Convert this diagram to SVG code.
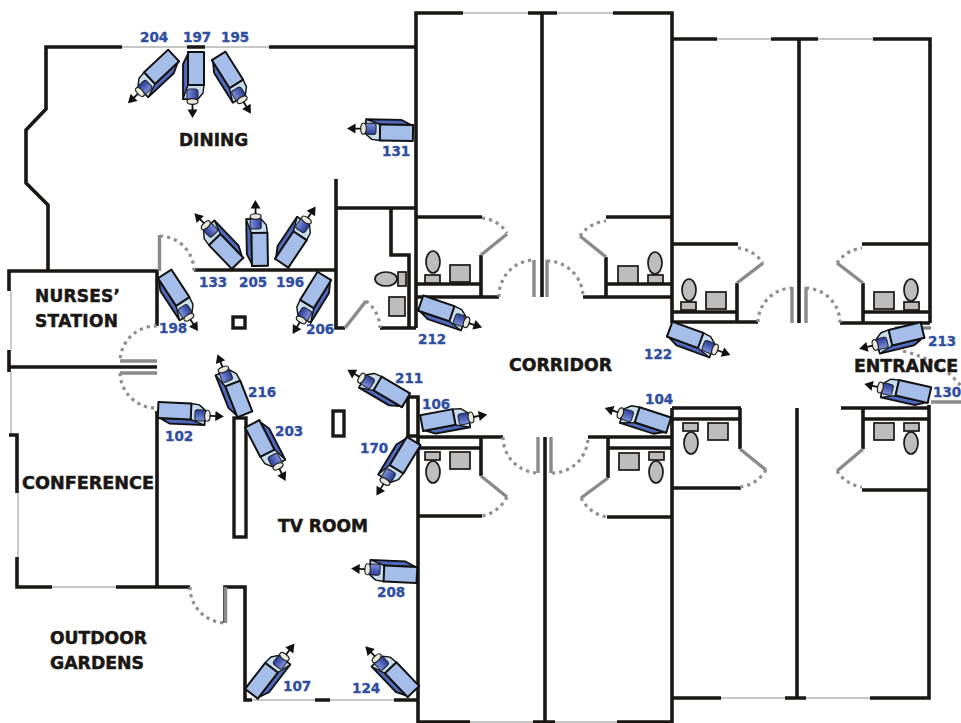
<svg xmlns="http://www.w3.org/2000/svg" width="961" height="723" viewBox="0 0 961 723">
<style>
.w{fill:none;stroke:#1a1714;stroke-width:3.6;stroke-linejoin:miter}
.t{fill:none;stroke:#b5b5b5;stroke-width:1.4}
.d{fill:none;stroke:#8a8a8a;stroke-width:3.4}
.a{fill:none;stroke:#8f8f8f;stroke-width:3.2;stroke-dasharray:3.200 4}
.fx{fill:#bdbdbd;stroke:#1a1714;stroke-width:1.700}
.p{fill:#fff;stroke:#1a1714;stroke-width:3.400}
.lb{font-family:"DejaVu Sans",sans-serif;font-weight:700;font-size:17px;fill:#1a1714;stroke:#1a1714;stroke-width:.5}
.n{font-family:"DejaVu Sans",sans-serif;font-weight:700;font-size:13.500px;fill:#2f4ea0;stroke:#2f4ea0;stroke-width:.35}
.cs{fill:url(#side);stroke:#111;stroke-width:1.800;stroke-linejoin:round}
.cn{fill:#c8deee;stroke:#111;stroke-width:1.400;stroke-linejoin:round}
.cf{fill:#a5bde9;stroke:#111;stroke-width:2;stroke-linejoin:round}
.cl{fill:url(#lens);stroke:#222;stroke-width:1}
.cc{fill:#e8e8dc;stroke:#222;stroke-width:1.200}
.ca{stroke:#111;stroke-width:1.800;fill:none}
.ch{fill:#111}
</style>
<defs>
<linearGradient id="side" x1="0" y1="0" x2="1" y2="0"><stop offset="0" stop-color="#3f58ad"/><stop offset="1" stop-color="#6f88d6"/></linearGradient>
<linearGradient id="lens" x1="0" y1="0" x2="1" y2="0"><stop offset="0" stop-color="#7f93df"/><stop offset="1" stop-color="#2a3a98"/></linearGradient>
<g id="cam">
<polygon class="cs" points="-5,0 -11,12 -11,47 -4,47 -6,33 -6,0"/>
<polygon class="cn" points="-6,33 10,33 9,41 4,47 -11,47"/>
<rect class="cf" x="-6" y="0" width="16" height="33"/>
<rect class="cl" x="-7" y="37" width="11" height="11" rx="2.500"/>
<ellipse class="cc" cx="-1.500" cy="49.500" rx="5.500" ry="2.800"/>
<line class="ca" x1="-1.500" y1="52" x2="-1.500" y2="59"/>
<polygon class="ch" points="-6.500,57.500 3.500,57.500 -1.500,66"/>
</g>
</defs>
<rect width="961" height="723" fill="#fff"/>
<g id="walls">
<path class="t" d="M122 47H269M463 13H528M557 13H613M717 39H771M818 39H873M721 698H785M806 698H870M470 722H533M555 722H617M11 291V350M11 372V435M18 493V557M52 587H116M252 700H315M330 700H394"/>
<path class="w" d="M122 47H46V109L26 130V183L48 205V271M269 47H416M187 47H205"/>
<path class="w" d="M9 291V271H157V326M9 350V372M9 367H157M157 411V587M9 435H17V493M17 557V587H52M116 587H190M225 623V587H245V700H252M315 700H330M394 700H418"/>
<path class="w" d="M194 270H336M336 179V328H345M336 208H416M391 208V255H409V328M380 328H416"/>
<path class="w" d="M463 13H416V328M528 13H557M542 13V297M613 13H672V323M672 39H717M771 39H818M799 39V323M873 39H930V323"/>
<path class="w" d="M408 397H418V723M408 397V436H418M545 437V723M672 408V723M672 698H721M785 698H806M797 408V698M870 698H929V405M418 722H470M533 722H555M617 722H672"/>
<path class="w" d="M417 217H482M481 255V297M417 284H481M417 297H499M606 217H672M606 257V297M606 284H672M583 297H672"/>
<path class="w" d="M417 437H503M417 448H481M481 437V476M417 516H482M588 437H672M608 448H672M608 437V478M607 517H672"/>
<path class="w" d="M673 244H738M737 283V322M673 312H737M673 322H758M840 323H930M863 283V323M863 312H930M862 244H930"/>
<path class="w" d="M672 408H741M672 419H740M740 408V449M672 488H741M841 408H930M863 419H930M863 408V449M862 490H930"/>
<rect class="p" x="233" y="317" width="12" height="11"/>
<rect class="p" x="333" y="411" width="11" height="25"/>
<rect class="p" x="234" y="418" width="12" height="119"/>
<g id="doors">
<path class="d" d="M159.500 235V271M120 361H157M120 373H157M345 328L366 301M225.500 587V623M481 255L507 234M534 260V297M547 260V297M606 257L580 236M481 476L507 497M538 437V473M551 437V473M608 478L581 498"/>
<path class="d" d="M737 283L763 263M792 287V323M806 287V323M863 283L837 263M740 449L766 470M863 449L837 471M895 328H931M931 402H961"/>
<path class="a" d="M160 236A35 35 0 0 1 194 271M157 326A36 36 0 0 0 120 361M120 373A36 36 0 0 0 157 408M366 301A35 35 0 0 1 380 328M190 587A36 36 0 0 0 225 623M482 218A33 33 0 0 1 507 233M499 297A36 36 0 0 1 534 260M547 261A36 36 0 0 1 583 297M580 236A35 35 0 0 1 606 221M507 497A36 36 0 0 1 482 516M503 437A36 36 0 0 0 538 473M552 473A36 36 0 0 0 588 437M581 498A36 36 0 0 0 607 517"/>
<path class="a" d="M738 248A35 35 0 0 1 763 263M758 322A35 35 0 0 1 792 288M806 288A35 35 0 0 1 840 323M837 263A35 35 0 0 1 862 248M766 470A35 35 0 0 1 740 487M837 471A35 35 0 0 0 862 487M903 351Q940 360 961 386"/>
</g>
<g id="fixtures">
<ellipse class="fx" cx="433" cy="262" rx="7" ry="11"/><rect class="fx" x="425" y="275" width="15" height="8"/><rect class="fx" x="450" y="265" width="20" height="17"/>
<ellipse class="fx" cx="655" cy="263" rx="7" ry="11"/><rect class="fx" x="648" y="275" width="15" height="8"/><rect class="fx" x="618" y="266" width="20" height="17"/>
<ellipse class="fx" cx="433" cy="472" rx="7" ry="11"/><rect class="fx" x="425" y="452" width="15" height="8"/><rect class="fx" x="450" y="452" width="20" height="17"/>
<ellipse class="fx" cx="656" cy="472" rx="7" ry="11"/><rect class="fx" x="649" y="452" width="15" height="8"/><rect class="fx" x="619" y="453" width="20" height="17"/>
<ellipse class="fx" cx="689" cy="290" rx="7" ry="11"/><rect class="fx" x="681" y="302" width="15" height="8"/><rect class="fx" x="706" y="292" width="20" height="17"/>
<ellipse class="fx" cx="911" cy="290" rx="7" ry="11"/><rect class="fx" x="904" y="302" width="15" height="8"/><rect class="fx" x="874" y="292" width="20" height="17"/>
<ellipse class="fx" cx="691" cy="443" rx="7" ry="11"/><rect class="fx" x="683" y="423" width="15" height="8"/><rect class="fx" x="708" y="423" width="20" height="17"/>
<ellipse class="fx" cx="911" cy="443" rx="7" ry="11"/><rect class="fx" x="904" y="423" width="15" height="8"/><rect class="fx" x="874" y="423" width="20" height="17"/>
<ellipse class="fx" cx="386" cy="279" rx="11" ry="7"/><rect class="fx" x="398" y="272" width="8" height="14"/><rect class="fx" x="389" y="297" width="16" height="19"/>
</g>
</g>
<g id="rooms">
<text class="lb" x="179" y="146">DINING</text>
<text class="lb" x="35" y="302" textLength="85">NURSES’</text>
<text class="lb" x="35" y="327" textLength="83">STATION</text>
<text class="lb" x="22" y="489" textLength="132" lengthAdjust="spacingAndGlyphs">CONFERENCE</text>
<text class="lb" x="278" y="532" textLength="90" lengthAdjust="spacingAndGlyphs">TV ROOM</text>
<text class="lb" x="50" y="644" textLength="97" lengthAdjust="spacingAndGlyphs">OUTDOOR</text>
<text class="lb" x="50" y="669" textLength="94" lengthAdjust="spacingAndGlyphs">GARDENS</text>
<text class="lb" x="509" y="371" textLength="103" lengthAdjust="spacingAndGlyphs">CORRIDOR</text>
<text class="lb" x="854" y="372" textLength="104" lengthAdjust="spacingAndGlyphs">ENTRANCE</text>
</g>
<g id="cameras">
<g id="cam-204"><use href="#cam" transform="translate(175 57) rotate(46.800) scale(-1 1)"/><text class="n" x="140" y="42">204</text></g>
<g id="cam-197"><use href="#cam" transform="translate(194 52)"/><text class="n" x="183" y="42">197</text></g>
<g id="cam-195"><use href="#cam" transform="translate(217 57) rotate(-32.200)"/><text class="n" x="221" y="42">195</text></g>
<g id="cam-131"><use href="#cam" transform="translate(413 131) rotate(90.900)"/><text class="n" x="382" y="156">131</text></g>
<g id="cam-133"><use href="#cam" transform="translate(239 262) rotate(136.200)"/><text class="n" x="199" y="287">133</text></g>
<g id="cam-205"><use href="#cam" transform="translate(258 266) rotate(179) scale(-1 1)"/><text class="n" x="239" y="287">205</text></g>
<g id="cam-196"><use href="#cam" transform="translate(280 262) rotate(-146.100) scale(-1 1)"/><text class="n" x="276" y="287">196</text></g>
<g id="cam-198"><use href="#cam" transform="translate(163 275) rotate(-33.200)"/><text class="n" x="159" y="333">198</text></g>
<g id="cam-206"><use href="#cam" transform="translate(326 277) rotate(31.700) scale(-1 1)"/><text class="n" x="306" y="334">206</text></g>
<g id="cam-216"><use href="#cam" transform="translate(243 415) rotate(158.500) scale(-1 1)"/><text class="n" x="248" y="397">216</text></g>
<g id="cam-102"><use href="#cam" transform="translate(158 412) rotate(-87.400)"/><text class="n" x="165" y="441">102</text></g>
<g id="cam-203"><use href="#cam" transform="translate(254 423) rotate(-27.300) scale(-1 1)"/><text class="n" x="275" y="436">203</text></g>
<g id="cam-211"><use href="#cam" transform="translate(405 402) rotate(120.500) scale(-1 1)"/><text class="n" x="395" y="383">211</text></g>
<g id="cam-170"><use href="#cam" transform="translate(412 440) rotate(31.300)"/><text class="n" x="360" y="453">170</text></g>
<g id="cam-208"><use href="#cam" transform="translate(417 573) rotate(92.600)"/><text class="n" x="377" y="597">208</text></g>
<g id="cam-107"><use href="#cam" transform="translate(253 695) rotate(-142.400)"/><text class="n" x="283" y="691">107</text></g>
<g id="cam-124"><use href="#cam" transform="translate(412 693) rotate(136.300) scale(-1 1)"/><text class="n" x="352" y="693">124</text></g>
<g id="cam-212"><use href="#cam" transform="translate(420 305) rotate(-71.300)"/><text class="n" x="418" y="344">212</text></g>
<g id="cam-106"><use href="#cam" transform="translate(422 425) rotate(-100.500)"/><text class="n" x="422" y="409">106</text></g>
<g id="cam-122"><use href="#cam" transform="translate(669 331) rotate(-69.900)"/><text class="n" x="644" y="359">122</text></g>
<g id="cam-104"><use href="#cam" transform="translate(668 427) rotate(108) scale(-1 1)"/><text class="n" x="645" y="404">104</text></g>
<g id="cam-213"><use href="#cam" transform="translate(923 332) rotate(76.600) scale(-1 1)"/><text class="n" x="928" y="346">213</text></g>
<g id="cam-130"><use href="#cam" transform="translate(929 397) rotate(102.700) scale(-1 1)"/><text class="n" x="933" y="397">130</text></g>
</g>
</svg>
